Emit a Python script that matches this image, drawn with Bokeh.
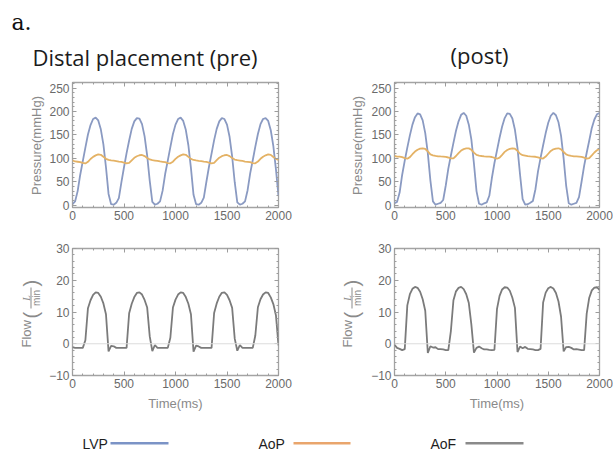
import math
from bokeh.plotting import figure
from bokeh.models import (Range1d, LinearAxis, FixedTicker, Label, BoxAnnotation,
                          Span, Grid, ColumnDataSource, CustomLabelingPolicy)
from bokeh.layouts import column, row
from bokeh.embed import file_html
from bokeh.resources import INLINE

# ---------------- data ----------------
time_ms = list(range(0, 2001, 25))

pre_lvp = [2, 8, 30, 65, 94, 123, 151, 171, 184, 187, 181, 162, 130, 81, 24, 2, 1, 5,
           15, 49, 81, 111, 138, 163, 179, 186, 185, 173, 147, 106, 52, 7, 1, 3,
           8, 31, 67, 95, 124, 152, 172, 184, 187, 180, 161, 128, 79, 22, 2, 1, 5,
           16, 50, 82, 110, 139, 163, 179, 186, 184, 172, 146, 104, 49, 6, 1, 3,
           8, 32, 68, 96, 125, 152, 173, 184, 186, 180, 160, 126, 77, 20]

pre_aop = [95.5, 93.3, 92.7, 91.8, 90.1, 89.2, 92.6, 98.6, 103.2, 106.3, 108.4, 107.6, 103.4, 99.0, 96.6, 95.7, 94.9, 94.1,
           93.1, 92.3, 90.9, 89.5, 90.2, 95.8, 101.2, 104.5, 106.6, 107.2, 104.8, 100.9, 97.6, 96.1, 95.3, 94.5,
           93.3, 92.6, 91.7, 90.0, 89.3, 92.8, 98.8, 103.3, 106.4, 108.4, 107.5, 103.2, 98.9, 96.5, 95.6, 94.8, 94.1,
           93.1, 92.3, 90.8, 89.4, 90.4, 96.0, 101.4, 104.6, 106.6, 107.2, 104.7, 100.7, 97.4, 96.0, 95.3, 94.4,
           93.2, 92.6, 91.7, 90.0, 89.3, 93.0, 99.0, 103.5, 106.5, 108.5, 107.4, 103.0, 98.8, 96.5]

pre_aof = [-1.1, -1.3, -1.3, -1.3, -1.3, 1.1, 11.2, 13.7, 15.4, 16.2, 16.0, 14.8, 12.7, 9.3, -2.4, -0.7, -0.8, -1.3,
           -1.3, -1.3, -1.3, -1.3, 9.6, 12.6, 14.7, 16.0, 16.2, 15.5, 13.8, 11.4, 2.3, -2.3, -0.4, -1.3,
           -1.3, -1.3, -1.3, -1.3, 1.9, 11.4, 13.9, 15.5, 16.2, 16.0, 14.7, 12.6, 9.3, -2.5, -0.6, -0.85, -1.3,
           -1.3, -1.3, -1.3, -1.3, 9.7, 12.7, 14.8, 16.05, 16.2, 15.4, 13.7, 11.3, 1.6, -2.2, -0.4, -1.3,
           -1.3, -1.3, -1.3, -1.3, 2.6, 11.5, 14.0, 15.5, 16.2, 16.0, 14.6, 12.5, 9.0, -0.5]

post_lvp = [4, 7, 27, 65, 95, 123, 149, 172, 188, 196, 194, 181, 154, 111, 53, 8, 1, 3, 5,
            11, 42, 78, 106, 133, 159, 179, 193, 197, 191, 172, 140, 89, 30, 3, 1, 4,
            6, 20, 58, 90, 117, 144, 168, 186, 196, 195, 185, 161, 122, 65, 13, 1, 2, 5,
            9, 34, 72, 101, 128, 154, 176, 191, 197, 192, 177, 148, 100, 41, 4, 1, 3,
            5, 17, 50, 84, 112, 138, 165, 183, 194, 197]

post_aop = [105.5, 103.8, 103.5, 102.4, 100.6, 99.2, 102.6, 108.8, 114.6, 118.4, 120.6, 121.4, 120.0, 114.8, 108.5, 106.5, 105.3, 104.4, 104.0,
            103.7, 103.1, 101.8, 99.8, 99.9, 105.0, 111.3, 116.6, 119.7, 121.1, 121.3, 118.3, 112.3, 107.5, 105.9, 105.0, 104.3,
            103.8, 103.6, 102.9, 101.1, 99.1, 101.5, 107.5, 113.8, 117.9, 120.2, 121.3, 120.6, 115.8, 109.8, 106.7, 105.7, 104.6, 104.1,
            103.7, 103.4, 102.1, 100.3, 99.5, 103.8, 109.8, 115.8, 119.3, 120.9, 121.5, 119.3, 113.5, 108.3, 106.1, 105.1, 104.3,
            104.0, 103.6, 103.2, 101.5, 99.5, 100.7, 106.3, 112.5, 117.3, 120.0]

post_aof = [-0.3, -1.3, -1.6, -2.0, -1.7, 12.1, 15.6, 17.3, 17.9, 17.6, 16.4, 14.0, 10.4, -2.9, -0.8, -1.2, -1.1, -1.7, -1.7,
            -1.8, -2.0, -2.0, 4.0, 13.7, 16.5, 17.6, 17.9, 17.2, 15.6, 12.8, 6.0, -2.8, -1.3, -0.9, -1.4, -1.8,
            -1.75, -1.9, -2.0, -1.9, 11.0, 15.1, 17.1, 17.8, 17.7, 16.7, 14.5, 11.3, -2.6, -0.9, -1.4, -1.0, -1.6, -1.7,
            -1.8, -2.0, -2.0, -1.6, 13.0, 16.1, 17.5, 17.9, 17.4, 16.0, 13.3, 8.5, -2.4, -1.05, -1.0, -1.3, -1.8,
            -1.7, -1.85, -2.0, -2.0, 9.5, 14.5, 16.8, 17.7, 17.8, 17.0]

time_ticks = [0, 500, 1000, 1500, 2000]
time_minor = list(range(0, 2001, 100))
pressure_ticks = [0, 50, 100, 150, 200, 250]
pressure_minor = list(range(0, 261, 10))
flow_ticks = [-10, 0, 10, 20, 30]
flow_minor = list(range(-10, 31, 2))
flow_tick_labels = {-10: "\u221210", 0: "0", 10: "10", 20: "20", 30: "30"}

panel_titles = ["Distal placement (pre)", "(post)"]
series_names = ["LVP", "AoP", "AoF"]

# ---------------- style ----------------
LVP_C = "#8a9ac2"
AOP_C = "#e4b265"
AOF_C = "#7b7b7b"
LEG_LVP = "#7b93c6"
LEG_AOP = "#e9a56c"
LEG_AOF = "#8a8a8a"
FRAME_C = "#a3a3a3"
TICK_C = "#9c9c9c"
TICKLAB_C = "#6a6a6a"
AXLAB_C = "#8a8a8a"
SANS = "Liberation Sans"

HIDE_ALL = CustomLabelingPolicy(code="""
for (let i = 0; i < indices.size; i++) { indices.unset(i) }
return indices
""")


def make_axis(ticks, minor, labels, axis_label=None, overrides=None):
    ax = LinearAxis(ticker=FixedTicker(ticks=ticks, minor_ticks=minor))
    ax.axis_line_color = None
    ax.major_tick_in = 4
    ax.major_tick_out = 0
    ax.minor_tick_in = 2
    ax.minor_tick_out = 0
    ax.major_tick_line_color = TICK_C
    ax.minor_tick_line_color = TICK_C
    if labels:
        ax.major_label_text_font = SANS
        ax.major_label_text_font_size = "12px"
        ax.major_label_text_color = TICKLAB_C
        ax.major_label_standoff = 3
        if overrides:
            ax.major_label_overrides = overrides
        if axis_label:
            ax.axis_label = axis_label
            ax.axis_label_text_font = SANS
            ax.axis_label_text_font_size = "13px"
            ax.axis_label_text_font_style = "normal"
            ax.axis_label_text_color = AXLAB_C
            ax.axis_label_standoff = 5
    else:
        ax.major_label_policy = HIDE_ALL
        ax.major_label_text_font_size = "0px"
        ax.major_label_standoff = 0
    return ax


def make_panel(fw, fh, bl, br, bt, bb, yr, yt, ym, xlabel=None, yover=None):
    p = figure(frame_width=fw, frame_height=fh,
               min_border_left=bl, min_border_right=br,
               min_border_top=bt, min_border_bottom=bb,
               x_range=Range1d(0, 2000), y_range=Range1d(*yr),
               x_axis_location=None, y_axis_location=None,
               output_backend="svg", toolbar_location=None)
    for r in list(p.center):
        if isinstance(r, Grid):
            r.visible = False
    p.outline_line_color = FRAME_C
    p.outline_line_width = 1.3
    p.background_fill_color = "white"
    p.border_fill_color = "white"
    p.add_layout(make_axis(time_ticks, time_minor, True, xlabel), "below")
    p.add_layout(make_axis(time_ticks, time_minor, False), "above")
    p.add_layout(make_axis(yt, ym, True, None, yover), "left")
    p.add_layout(make_axis(yt, ym, False), "right")
    return p


def blank(width, height):
    f = figure(width=width, height=height, x_range=Range1d(0, width), y_range=Range1d(0, height),
               x_axis_location=None, y_axis_location=None, min_border=0,
               output_backend="svg", toolbar_location=None)
    for r in list(f.center):
        if isinstance(r, Grid):
            r.visible = False
    f.outline_line_color = None
    return f


def screen_box(f, l, r, b, t, color):
    f.add_layout(BoxAnnotation(left=l, right=r, bottom=b, top=t,
                               left_units="screen", right_units="screen",
                               top_units="screen", bottom_units="screen",
                               fill_color=color, fill_alpha=1, line_color=None))


# label strips: their frames are aligned with the neighbouring panel frame,
# so screen y is measured from the panel frame's bottom edge
def pressure_label_fig(width, ox):
    f = blank(width, 148)
    f.add_layout(Label(x=ox - 36, y=62, x_units="screen", y_units="screen",
                       angle=math.pi / 2, text="Pressure(mmHg)", text_font=SANS,
                       text_font_size="13px", text_color=AXLAB_C,
                       text_align="center", text_baseline="middle"))
    return f


def flow_label_fig(width, ox):
    f = blank(width, 190)
    kw = dict(x_units="screen", y_units="screen", angle=math.pi / 2,
              text_color=AXLAB_C, text_baseline="middle")
    f.add_layout(Label(x=ox - 46, y=28, text="Flow", text_font=SANS,
                       text_font_size="13px", text_align="left", **kw))
    f.add_layout(Label(x=ox - 42, y=57, text="(", text_font=SANS,
                       text_font_size="20px", text_align="left", **kw))
    f.add_layout(Label(x=ox - 46, y=77.5, text="L", text_font="Liberation Serif",
                       text_font_style="italic", text_font_size="10px",
                       text_align="center", **kw))
    f.add_layout(Label(x=ox - 36.5, y=77.5, text="min", text_font=SANS,
                       text_font_size="10px", text_align="center", **kw))
    f.add_layout(Label(x=ox - 42, y=89, text=")", text_font=SANS,
                       text_font_size="20px", text_align="left", **kw))
    screen_box(f, ox - 42, ox - 41, 67, 88, AXLAB_C)
    return f


def draw_pressure(p, lvp, aop):
    src = ColumnDataSource(dict(t=time_ms, lvp=lvp, aop=aop))
    p.line("t", "lvp", source=src, line_color=LVP_C, line_width=1.8)
    p.line("t", "aop", source=src, line_color=AOP_C, line_width=1.8)


def draw_flow(p, aof):
    p.add_layout(Span(location=0, dimension="width", line_color="#dcdcdc", line_width=1))
    src = ColumnDataSource(dict(t=time_ms, aof=aof))
    p.line("t", "aof", source=src, line_color=AOF_C, line_width=1.8)


P_RANGE = (-5, 262)
F_RANGE = (-10, 30)

# header
header = blank(612, 80)
header.add_layout(Label(x=11, y=58.3, x_units="screen", y_units="screen", text="a.",
                        text_font="DejaVu Serif", text_font_size="22px", text_color="#111111",
                        text_align="left", text_baseline="alphabetic"))
header.add_layout(Label(x=32, y=23.5, x_units="screen", y_units="screen", text=panel_titles[0],
                        text_font="Open Sans", text_font_size="22px", text_color="#1c1c1c",
                        text_align="left", text_baseline="alphabetic"))
header.add_layout(Label(x=450, y=26, x_units="screen", y_units="screen", text=panel_titles[1],
                        text_font="Open Sans", text_font_size="22px", text_color="#1c1c1c",
                        text_align="left", text_baseline="alphabetic"))

tl = make_panel(206, 125, 26, 42, 2, 21, P_RANGE, pressure_ticks, pressure_minor)
tr = make_panel(205, 125, 25, 14, 2, 21, P_RANGE, pressure_ticks, pressure_minor)
bl = make_panel(206, 127, 26, 42, 20, 43, F_RANGE, flow_ticks, flow_minor,
                xlabel="Time(ms)", yover=flow_tick_labels)
br = make_panel(205, 127, 25, 14, 20, 43, F_RANGE, flow_ticks, flow_minor,
                xlabel="Time(ms)", yover=flow_tick_labels)

draw_pressure(tl, pre_lvp, pre_aop)
draw_pressure(tr, post_lvp, post_aop)
draw_flow(bl, pre_aof)
draw_flow(br, post_aof)

pl_left = pressure_label_fig(46, 72)
pl_right = pressure_label_fig(48, 73)
fl_left = flow_label_fig(46, 72)
fl_right = flow_label_fig(48, 73)

# legend strip
leg = blank(612, 34)
leg_items = [(series_names[0], 82, 110, 168, LEG_LVP),
             (series_names[1], 258, 293, 350, LEG_AOP),
             (series_names[2], 430, 465, 523, LEG_AOF)]
for name, tx, l0, l1, col in leg_items:
    leg.add_layout(Label(x=tx, y=9, x_units="screen", y_units="screen", text=name,
                         text_font=SANS, text_font_size="14px", text_color="#1e1e1e",
                         text_align="left", text_baseline="middle"))
    screen_box(leg, l0, l1, 8, 10.5, col)

layout = column(header, row(pl_left, tl, pl_right, tr), row(fl_left, bl, fl_right, br), leg)

open("out.html", "w").write(file_html(layout, INLINE))
